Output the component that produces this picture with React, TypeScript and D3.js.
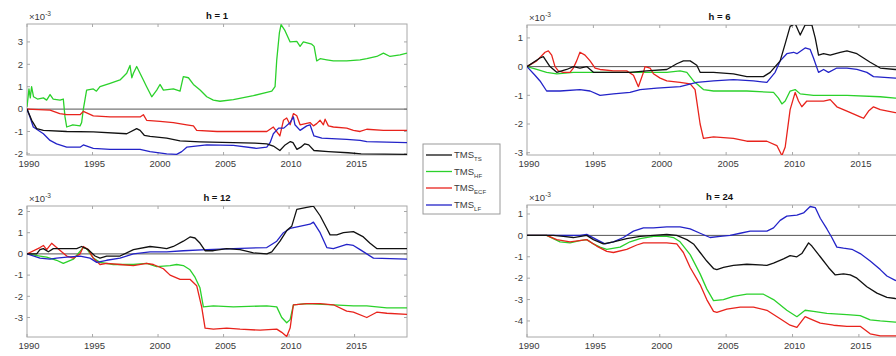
import React from 'react';
import * as d3 from 'd3';

type Pt = [number, number];

const seriesNames = ['TS', 'HF', 'ECF', 'LF'];
const seriesColors = ['#111111', '#2bd12b', '#e8231c', '#2323c8'];
const panelTitles = ['h = 1', 'h = 6', 'h = 12', 'h = 24'];
const xTickYears = [1990, 1995, 2000, 2005, 2010, 2015];
const xDomain: Pt = [1990, 2019];
const yDomains: Pt[] = [[-2.05, 3.8], [-3.08, 1.45], [-3.92, 2.26], [-4.75, 1.42]];
const yTicks: number[][] = [[-2, -1, 0, 1, 2, 3], [-3, -2, -1, 0, 1], [-3, -2, -1, 0, 1, 2], [-4, -3, -2, -1, 0, 1]];

// ---------- h = 1 ----------
const h1_TS: Pt[] = [[1990,0],[1990.36,-0.5],[1990.74,-0.87],[1991.25,-0.95],[1993.03,-1.0],[1995.06,-1.02],[1997.61,-1.1],[1998.37,-0.87],[1998.63,-0.95],[1998.95,-1.17],[1999.39,-1.22],[2000.66,-1.3],[2001.68,-1.42],[2003.21,-1.46],[2005.75,-1.5],[2007.4,-1.52],[2008.3,-1.55],[2008.8,-1.65],[2009.3,-1.85],[2009.7,-1.6],[2010.1,-1.45],[2010.3,-1.5],[2010.6,-1.8],[2010.9,-1.7],[2011.2,-1.55],[2011.5,-1.6],[2011.9,-1.85],[2013.0,-1.9],[2014.5,-1.95],[2015.5,-2.0],[2019,-2.02]];
const h1_HF: Pt[] = [[1990,0.1],[1990.15,0.9],[1990.25,0.5],[1990.35,1.0],[1990.5,0.55],[1990.8,0.45],[1991.25,0.5],[1991.5,0.4],[1991.76,0.65],[1992.0,0.45],[1992.52,0.4],[1992.77,0.45],[1992.9,-0.35],[1993.03,-0.8],[1993.5,-0.7],[1994.05,-0.75],[1994.17,-0.6],[1994.3,0.0],[1994.55,0.85],[1995.06,0.9],[1995.3,0.8],[1995.57,1.0],[1996.34,1.15],[1997.1,1.3],[1997.61,1.6],[1997.86,1.95],[1998.0,1.4],[1998.12,1.6],[1998.37,1.9],[1998.88,1.3],[1999.13,1.0],[1999.52,0.55],[1999.9,0.85],[2000.15,1.1],[2000.41,0.85],[2001.17,0.9],[2001.68,0.8],[2001.93,1.45],[2002.32,1.4],[2002.7,1.1],[2003.21,0.85],[2003.72,0.55],[2004.22,0.4],[2004.73,0.35],[2005.75,0.42],[2007.28,0.6],[2008.3,0.75],[2008.68,0.8],[2008.93,1.0],[2009.06,2.2],[2009.26,3.4],[2009.39,3.77],[2009.69,3.5],[2010.08,3.0],[2010.59,3.02],[2010.84,2.8],[2011.09,3.0],[2011.73,2.9],[2011.91,2.8],[2012.11,2.15],[2012.37,2.25],[2012.88,2.2],[2013.38,2.15],[2014.4,2.15],[2015.42,2.2],[2015.93,2.25],[2016.69,2.35],[2017.2,2.5],[2017.71,2.35],[2018.47,2.42],[2019,2.5]];
const h1_ECF: Pt[] = [[1990,0],[1991.76,-0.05],[1992.5,-0.2],[1993.03,-0.25],[1994.05,-0.25],[1994.3,-0.1],[1995.06,-0.3],[1996.34,-0.35],[1998.63,-0.35],[1998.88,-0.25],[1999.13,-0.5],[2000.15,-0.55],[2001.17,-0.6],[2002.19,-0.7],[2002.7,-0.75],[2002.95,-0.95],[2004.5,-1.0],[2008.3,-1.0],[2008.8,-0.8],[2009.3,-1.2],[2009.57,-0.5],[2009.82,-0.4],[2010.08,-0.7],[2010.33,-0.2],[2010.59,-0.3],[2010.84,-0.7],[2011.6,-0.6],[2011.86,-0.75],[2012.11,-0.65],[2012.37,-0.5],[2012.62,-0.7],[2012.75,-0.45],[2013.0,-0.75],[2013.38,-0.8],[2014.4,-0.85],[2014.91,-0.95],[2015.42,-1.0],[2015.93,-0.9],[2017.2,-0.95],[2019,-0.95]];
const h1_LF: Pt[] = [[1990,0],[1990.23,-0.35],[1990.48,-0.8],[1991.25,-1.1],[1991.76,-1.4],[1992.26,-1.55],[1993.03,-1.7],[1994.05,-1.7],[1994.3,-1.6],[1995.06,-1.75],[1996.34,-1.8],[1998.63,-1.8],[1999.39,-1.9],[2000.66,-2.0],[2001.42,-2.02],[2001.81,-1.9],[2002.19,-1.7],[2003.72,-1.6],[2005.75,-1.62],[2007.5,-1.75],[2008.3,-1.7],[2008.55,-1.5],[2008.8,-1.1],[2009.2,-0.85],[2009.6,-0.85],[2010.08,-0.6],[2010.33,-0.35],[2010.45,-0.7],[2010.84,-0.95],[2011.35,-0.75],[2011.6,-0.7],[2011.9,-1.2],[2012.5,-1.3],[2014.4,-1.35],[2015.42,-1.4],[2015.93,-1.45],[2019,-1.5]];

// ---------- h = 6 ----------
const h6_TS: Pt[] = [[1990,0],[1990.98,0.3],[1991.23,0.35],[1991.73,0.0],[1992.24,-0.2],[1992.99,-0.1],[1993.49,0.0],[1993.99,-0.05],[1994.5,0.0],[1995.0,-0.2],[1996.51,-0.2],[1997.76,-0.2],[1999.02,-0.15],[2000.53,-0.1],[2001.28,0.1],[2001.78,0.2],[2002.29,0.2],[2002.79,0.05],[2003.04,-0.2],[2004.05,-0.2],[2005.55,-0.25],[2006.56,-0.35],[2007.81,-0.35],[2008.32,-0.2],[2009.07,0.2],[2009.45,0.8],[2009.82,1.4],[2010.2,1.5],[2010.58,1.1],[2010.95,1.45],[2011.46,1.45],[2011.71,1.0],[2011.96,0.4],[2012.34,0.45],[2012.84,0.4],[2013.59,0.5],[2014.1,0.55],[2014.85,0.45],[2015.35,0.3],[2015.85,0.15],[2016.61,-0.05],[2017.74,-0.1],[2019,-0.1]];
const h6_HF: Pt[] = [[1990,0],[1990.73,-0.1],[1991.48,-0.2],[1992.24,-0.25],[1993.49,-0.2],[1996.51,-0.2],[1999.02,-0.2],[2000.53,-0.2],[2001.53,-0.15],[2002.04,-0.2],[2002.54,-0.5],[2003.29,-0.8],[2004.05,-0.85],[2006.56,-0.85],[2008.57,-0.9],[2008.94,-1.1],[2009.2,-1.3],[2009.45,-1.2],[2009.82,-0.85],[2010.2,-0.8],[2010.58,-0.95],[2011.58,-1.0],[2014.1,-1.0],[2016.61,-1.05],[2017.74,-1.1],[2019,-1.1]];
const h6_ECF: Pt[] = [[1990,0],[1990.73,0.2],[1991.36,0.5],[1991.61,0.55],[1991.86,0.4],[1992.11,0.0],[1992.36,-0.15],[1992.74,-0.2],[1993.24,-0.2],[1993.49,-0.05],[1993.74,0.2],[1993.99,0.5],[1994.37,0.4],[1994.75,0.2],[1995.13,-0.05],[1995.5,-0.1],[1996.51,-0.15],[1997.51,-0.15],[1998.02,-0.3],[1998.39,-0.7],[1998.77,-0.2],[1998.89,0.0],[1999.27,-0.05],[1999.52,-0.25],[2000.03,-0.4],[2000.53,-0.5],[2001.53,-0.55],[2002.29,-0.6],[2002.66,-0.8],[2003.04,-2.0],[2003.29,-2.5],[2004.05,-2.45],[2005.55,-2.5],[2006.56,-2.6],[2008.07,-2.6],[2008.82,-2.75],[2009.2,-3.1],[2009.45,-2.8],[2009.82,-1.5],[2010.2,-0.9],[2010.45,-1.2],[2010.7,-1.4],[2011.08,-1.2],[2012.34,-1.2],[2012.84,-1.15],[2013.34,-1.4],[2014.1,-1.55],[2015.1,-1.75],[2015.35,-1.8],[2015.73,-1.55],[2016.1,-1.4],[2016.61,-1.5],[2017.74,-1.6],[2019,-1.6]];
const h6_LF: Pt[] = [[1990,0],[1990.6,-0.3],[1990.98,-0.5],[1991.48,-0.85],[1992.49,-0.85],[1993.99,-0.8],[1994.75,-0.85],[1995.5,-1.0],[1996.51,-0.95],[1997.76,-0.9],[1998.52,-0.8],[1999.77,-0.75],[2001.53,-0.7],[2002.79,-0.55],[2004.05,-0.5],[2005.55,-0.45],[2007.06,-0.5],[2008.07,-0.55],[2008.69,-0.2],[2009.07,0.2],[2009.57,0.45],[2010.08,0.5],[2010.33,0.45],[2010.95,0.65],[2011.33,0.6],[2011.58,0.3],[2011.96,-0.2],[2012.34,-0.1],[2012.71,-0.2],[2013.34,-0.05],[2014.1,-0.05],[2014.85,-0.1],[2015.6,-0.2],[2016.1,-0.35],[2017.74,-0.4],[2019,-0.4]];

// ---------- h = 12 ----------
const h12_TS: Pt[] = [[1990,0],[1990.74,0],[1990.99,0.2],[1991.25,0.25],[1991.63,0.1],[1992.01,0.25],[1993.79,0.25],[1994.17,0.35],[1994.68,0.2],[1995.19,-0.1],[1995.57,-0.2],[1996.08,-0.1],[1997.1,-0.1],[1998.12,0.2],[1999.39,0.35],[2000.15,0.3],[2000.66,0.25],[2001.17,0.35],[2001.93,0.6],[2002.44,0.8],[2002.82,0.75],[2003.21,0.5],[2003.59,0.15],[2004.22,0.15],[2005.24,0.25],[2006.26,0.2],[2007.28,0.05],[2008.3,0.0],[2008.68,0.1],[2009.31,0.6],[2009.82,1.1],[2010.2,1.3],[2010.59,2.1],[2011.35,2.2],[2011.86,2.25],[2012.37,1.8],[2012.88,1.2],[2013.13,0.9],[2013.64,0.9],[2014.15,1.0],[2014.91,1.05],[2015.67,0.8],[2016.18,0.5],[2016.69,0.25],[2019,0.25]];
const h12_HF: Pt[] = [[1990,0],[1990.99,-0.1],[1991.5,-0.15],[1992.26,-0.3],[1992.77,-0.45],[1993.54,-0.25],[1994.3,0.3],[1994.55,0.25],[1995.06,-0.2],[1995.57,-0.4],[1996.59,-0.5],[1998.12,-0.5],[1999.13,-0.45],[1999.9,-0.6],[2000.92,-0.55],[2001.42,-0.5],[2001.93,-0.55],[2002.44,-0.75],[2002.82,-1.1],[2003.2,-1.6],[2003.46,-2.5],[2004.22,-2.45],[2005.75,-2.5],[2008.3,-2.45],[2009.06,-2.5],[2009.44,-3.0],[2009.82,-3.25],[2010.08,-3.1],[2010.33,-2.4],[2011.35,-2.35],[2013.38,-2.4],[2014.91,-2.45],[2015.93,-2.45],[2017.46,-2.55],[2019,-2.55]];
const h12_ECF: Pt[] = [[1990,0],[1990.99,0.3],[1991.25,0.4],[1991.5,0.2],[1991.88,0.5],[1992.26,0.3],[1993.03,-0.1],[1993.54,-0.2],[1994.05,0.0],[1994.3,0.35],[1994.68,0.2],[1995.06,-0.2],[1995.57,-0.5],[1996.08,-0.45],[1997.1,-0.5],[1998.12,-0.55],[1999.13,-0.45],[1999.64,-0.5],[2000.41,-0.7],[2000.92,-1.0],[2001.68,-1.2],[2002.44,-1.2],[2002.95,-1.5],[2003.33,-2.5],[2003.59,-3.5],[2004.22,-3.55],[2005.24,-3.5],[2006.26,-3.55],[2007.79,-3.6],[2009.06,-3.55],[2009.44,-3.7],[2009.82,-3.9],[2010.08,-3.5],[2010.33,-2.4],[2011.35,-2.35],[2012.37,-2.35],[2013.38,-2.4],[2014.4,-2.7],[2014.91,-2.75],[2015.93,-3.0],[2016.69,-2.75],[2017.46,-2.8],[2019,-2.85]];
const h12_LF: Pt[] = [[1990,0],[1990.99,-0.2],[1991.76,-0.25],[1992.26,-0.2],[1993.03,-0.15],[1994.05,-0.1],[1994.81,-0.2],[1995.32,-0.4],[1996.08,-0.3],[1997.1,-0.2],[1998.12,0.0],[1999.39,0.1],[2000.66,0.1],[2001.93,0.15],[2003.72,0.2],[2005.75,0.25],[2008.3,0.3],[2009.06,0.6],[2009.57,1.0],[2010.08,1.2],[2011.6,1.4],[2011.86,1.5],[2012.37,1.0],[2012.88,0.3],[2013.38,0.25],[2014.4,0.45],[2014.91,0.4],[2015.42,0.2],[2015.93,0.0],[2016.44,-0.2],[2019,-0.25]];

// ---------- h = 24 ----------
const h24_TS: Pt[] = [[1990,0],[1991.98,0],[1992.74,-0.05],[1993.49,-0.1],[1994.5,0.0],[1995.0,-0.2],[1995.75,-0.4],[1996.51,-0.3],[1997.51,-0.15],[1998.52,-0.05],[1999.52,0.0],[2000.53,0.05],[2001.28,0.0],[2002.04,-0.2],[2002.54,-0.4],[2003.04,-0.8],[2003.54,-1.2],[2004.05,-1.55],[2004.3,-1.6],[2004.8,-1.5],[2005.55,-1.4],[2006.56,-1.35],[2008.07,-1.4],[2008.57,-1.3],[2009.32,-1.1],[2009.82,-0.95],[2010.33,-1.0],[2010.7,-0.85],[2011.21,-0.35],[2011.46,-0.5],[2012.09,-1.0],[2012.71,-1.5],[2013.22,-1.85],[2013.84,-1.8],[2014.35,-1.85],[2014.85,-2.0],[2015.6,-2.4],[2016.36,-2.7],[2017.11,-2.9],[2017.74,-2.95],[2019,-3.0]];
const h24_HF: Pt[] = [[1990,0],[1991.48,0],[1991.98,-0.15],[1992.49,-0.3],[1993.24,-0.35],[1993.99,-0.25],[1994.5,-0.2],[1995.0,-0.4],[1995.5,-0.55],[1996.01,-0.65],[1997.01,-0.55],[1997.76,-0.3],[1998.52,-0.15],[1999.52,-0.05],[2000.53,-0.05],[2001.03,-0.1],[2001.53,-0.3],[2002.29,-0.9],[2003.04,-1.8],[2003.54,-2.5],[2004.05,-3.05],[2004.8,-3.0],[2005.55,-2.85],[2006.56,-2.75],[2007.81,-2.75],[2008.57,-3.0],[2009.57,-3.5],[2010.33,-3.8],[2010.95,-3.5],[2011.58,-3.55],[2012.59,-3.65],[2014.1,-3.7],[2015.1,-3.75],[2015.85,-3.95],[2016.61,-4.0],[2017.74,-4.05],[2019,-4.1]];
const h24_ECF: Pt[] = [[1990,0],[1991.48,0],[1992.24,-0.2],[1993.24,-0.3],[1994.5,-0.2],[1995.25,-0.5],[1996.01,-0.75],[1996.51,-0.8],[1997.51,-0.65],[1998.27,-0.45],[1998.77,-0.35],[2000.53,-0.35],[2001.28,-0.4],[2001.78,-0.8],[2002.29,-1.5],[2003.04,-2.3],[2003.54,-3.0],[2004.05,-3.55],[2004.3,-3.6],[2005.05,-3.45],[2006.06,-3.35],[2007.06,-3.35],[2008.07,-3.5],[2009.07,-3.9],[2009.82,-4.2],[2010.33,-4.3],[2010.95,-3.8],[2011.33,-3.9],[2012.09,-4.1],[2013.09,-4.2],[2014.1,-4.25],[2015.1,-4.25],[2015.85,-4.6],[2016.61,-4.7],[2019,-4.7]];
const h24_LF: Pt[] = [[1990,0],[1994,0],[1994.5,0.05],[1995.25,-0.2],[1995.88,-0.4],[1996.51,-0.3],[1997.26,-0.1],[1998.02,0.2],[1998.77,0.35],[1999.52,0.35],[2000.53,0.4],[2001.53,0.4],[2002.29,0.3],[2003.04,0.1],[2003.79,-0.1],[2004.55,-0.05],[2005.3,0.0],[2006.06,0.1],[2006.81,0.2],[2008.07,0.2],[2008.57,0.35],[2009.07,0.7],[2009.57,0.9],[2010.33,0.95],[2010.83,1.05],[2011.33,1.35],[2011.71,1.3],[2012.09,0.8],[2012.59,0.3],[2012.96,-0.1],[2013.34,-0.55],[2013.84,-0.6],[2014.47,-0.65],[2015.1,-0.85],[2015.85,-1.2],[2016.61,-1.6],[2017.11,-1.9],[2017.74,-2.1],[2019,-2.3]];

const panelSeries: Pt[][][] = [
  [h1_TS, h1_HF, h1_ECF, h1_LF],
  [h6_TS, h6_HF, h6_ECF, h6_LF],
  [h12_TS, h12_HF, h12_ECF, h12_LF],
  [h24_TS, h24_HF, h24_ECF, h24_LF],
];

// draw order (back to front)
const drawOrder = [1, 2, 3, 0];

const layout = [
  { x0: 27, x1: 407, y0: 24, y1: 155 },
  { x0: 527, x1: 912, y0: 25, y1: 155 },
  { x0: 27, x1: 407, y0: 206, y1: 337 },
  { x0: 527, x1: 912, y0: 205, y1: 337 },
];

const FONT = 'Liberation Sans, Arial, Helvetica, sans-serif';
const AXIS = '#a8a8a8';
const LABEL = '#3a3a3a';

function Panel({ idx }: { idx: number }) {
  const L = layout[idx];
  const x = d3.scaleLinear().domain(xDomain).range([L.x0, L.x1]);
  const y = d3.scaleLinear().domain(yDomains[idx]).range([L.y1, L.y0]);
  const line = d3.line<Pt>().x((d) => x(d[0])).y((d) => y(d[1]));
  const clipId = `clip${idx}`;
  return (
    <g>
      <defs>
        <clipPath id={clipId}>
          <rect x={L.x0} y={L.y0} width={L.x1 - L.x0} height={L.y1 - L.y0} />
        </clipPath>
      </defs>
      <rect x={L.x0} y={L.y0} width={L.x1 - L.x0} height={L.y1 - L.y0} fill="#fff" stroke={AXIS} strokeWidth={1} />
      {xTickYears.map((t) => (
        <g key={'xt' + t}>
          <line x1={x(t)} x2={x(t)} y1={L.y1} y2={L.y1 - 3} stroke={AXIS} />
          <line x1={x(t)} x2={x(t)} y1={L.y0} y2={L.y0 + 3} stroke={AXIS} />
          <text x={x(t) + 2} y={L.y1 + 12} textAnchor="middle" fontSize={9.5} fill={LABEL} fontFamily={FONT}>
            {t}
          </text>
        </g>
      ))}
      {yTicks[idx].map((t) => (
        <g key={'yt' + t}>
          <line x1={L.x0} x2={L.x0 + 3} y1={y(t)} y2={y(t)} stroke={AXIS} />
          <line x1={L.x1} x2={L.x1 - 3} y1={y(t)} y2={y(t)} stroke={AXIS} />
          <text x={L.x0 - 4} y={y(t) + 3.3} textAnchor="end" fontSize={9.5} fill={LABEL} fontFamily={FONT}>
            {t}
          </text>
        </g>
      ))}
      <g clipPath={`url(#${clipId})`}>
        <line x1={L.x0} x2={L.x1} y1={y(0)} y2={y(0)} stroke="#555" strokeWidth={1} />
        {drawOrder.map((s) => (
          <path key={s} d={line(panelSeries[idx][s]) || ''} fill="none" stroke={seriesColors[s]} strokeWidth={1.3} strokeLinejoin="round" />
        ))}
      </g>
      <text x={L.x0 + 2} y={L.y0 - 4} fontSize={9.5} fill={LABEL} fontFamily={FONT}>
        ×10
        <tspan fontSize={6.5} dy={-4}>-3</tspan>
      </text>
      <text x={(L.x0 + L.x1) / 2} y={L.y0 - 5} textAnchor="middle" fontSize={9.5} fontWeight="bold" fill="#111" fontFamily={FONT}>
        {panelTitles[idx]}
      </text>
    </g>
  );
}

function Legend() {
  const lx = 423, ly = 144, lw = 77, lh = 70;
  const rows = [155, 171.5, 188, 205];
  return (
    <g>
      <rect x={lx} y={ly} width={lw} height={lh} fill="#fff" stroke="#9a9a9a" strokeWidth={1} />
      {seriesNames.map((n, i) => (
        <g key={n}>
          <line x1={lx + 3} x2={lx + 29} y1={rows[i]} y2={rows[i]} stroke={seriesColors[i]} strokeWidth={1.3} />
          <text x={lx + 31} y={rows[i] + 3} fontSize={9.5} fill={LABEL} fontFamily={FONT}>
            TMS
            <tspan fontSize={6} dy={3}>{n}</tspan>
          </text>
        </g>
      ))}
    </g>
  );
}

export default function App() {
  return (
    <svg width={896} height={356} style={{ position: 'absolute', left: 0, top: 0, background: '#fff' }}>
      <rect x={0} y={0} width={896} height={356} fill="#fff" />
      {[0, 1, 2, 3].map((i) => (
        <Panel key={i} idx={i} />
      ))}
      <Legend />
    </svg>
  );
}
